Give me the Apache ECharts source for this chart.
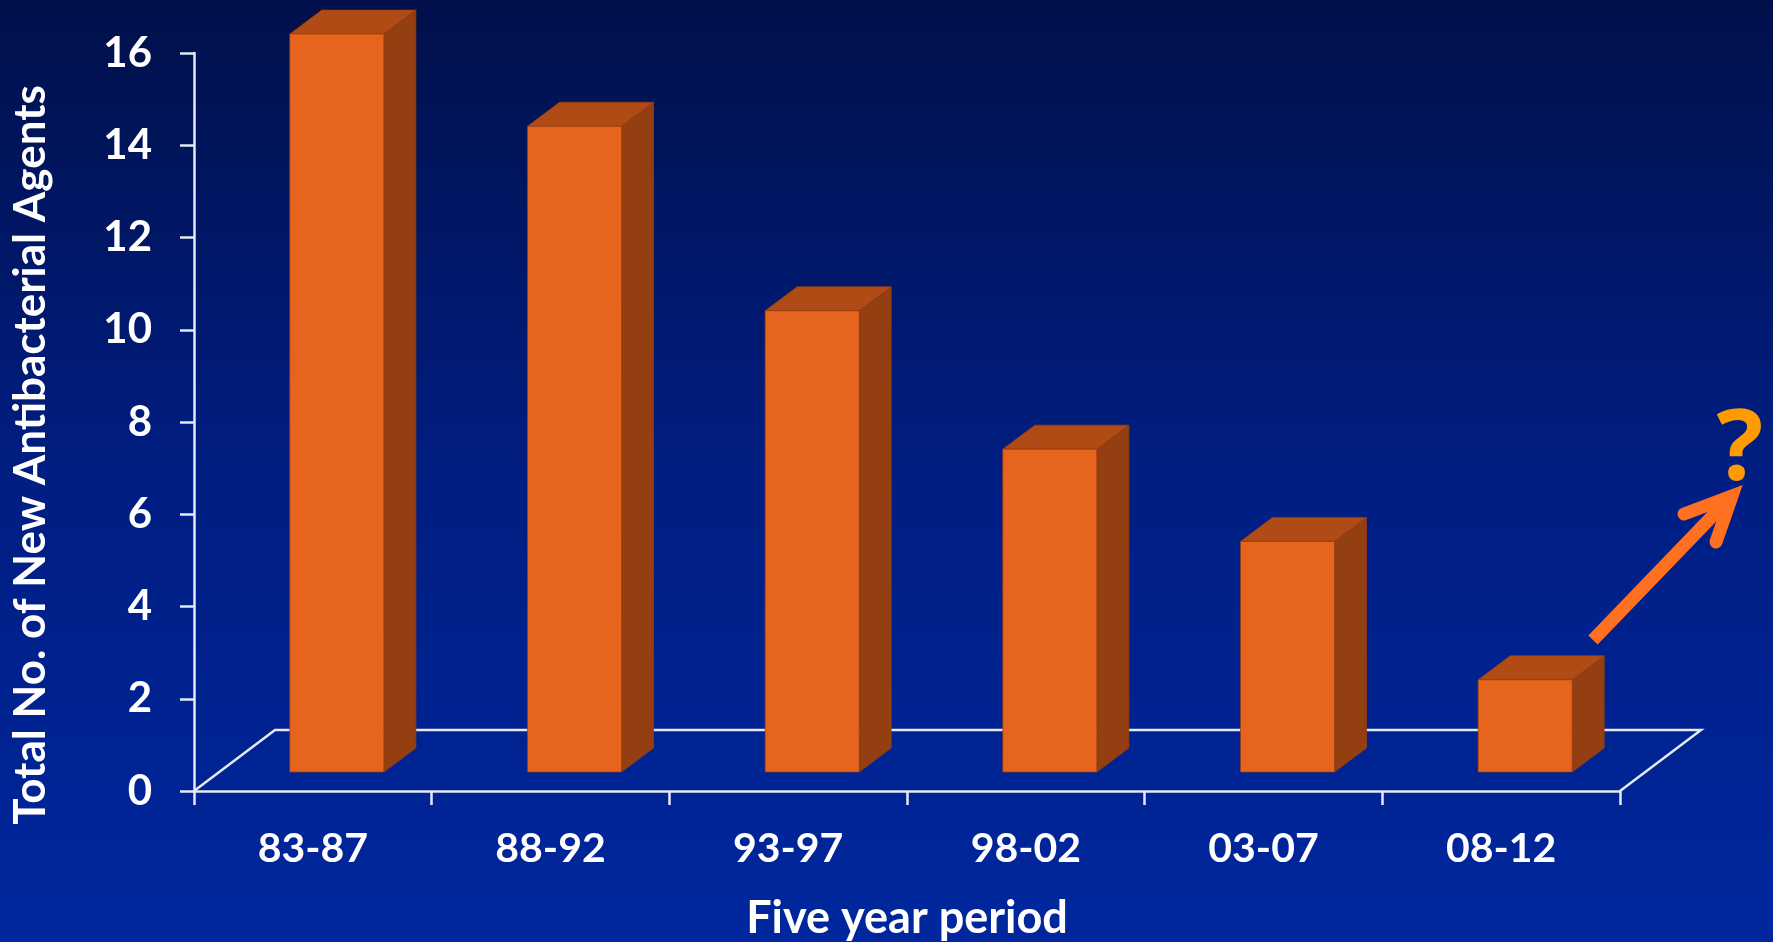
<!DOCTYPE html>
<html>
<head>
<meta charset="utf-8">
<script src="https://cdn.jsdelivr.net/npm/echarts@6/dist/echarts.min.js"></script>
<style>
html,body{margin:0;padding:0;background:#001a70;}
#main{width:1773px;height:942px;}
</style>
</head>
<body>
<div id="main"></div>
<script>
// five year periods and the number of new antibacterial agents approved
var periods = ['83-87', '88-92', '93-97', '98-02', '03-07', '08-12'];
var agents = [16, 14, 10, 7, 5, 2];
var yTitle = 'Total No. of New Antibacterial Agents';
var xTitle = 'Five year period';

var FONT = 'Lato, "Open Sans", sans-serif';
var LINE = '#e4e9f3';

// 3d look: depth of the floor and of each box
var floorDx = 81, floorDy = -61;
var boxDx = 32, boxDy = -24;

function renderFloor(params, api) {
  var cs = params.coordSys;
  var fl = [cs.x, cs.y + cs.height];
  var fr = [cs.x + cs.width, cs.y + cs.height];
  return {
    type: 'polyline',
    shape: { points: [fl, [fl[0] + floorDx, fl[1] + floorDy], [fr[0] + floorDx, fr[1] + floorDy], fr] },
    style: { stroke: LINE, lineWidth: 2.5, fill: null }
  };
}

function renderBox(params, api) {
  var idx = api.value(0);
  var base = api.coord([idx, 0]);
  var top = api.coord([idx, api.value(1)]);
  var band = api.size([1, 0])[0];
  var halfW = band * 0.198;
  var sx = band * 0.101, sy = -19; // front face sits a bit into the floor
  var x0 = base[0] + sx - halfW, x1 = base[0] + sx + halfW;
  var yb = base[1] + sy, yt = top[1] + sy;
  var edge = 'rgba(150,60,15,0.7)';
  return {
    type: 'group',
    children: [
      {
        type: 'polygon',
        shape: { points: [[x1, yt], [x1 + boxDx, yt + boxDy], [x1 + boxDx, yb + boxDy], [x1, yb]] },
        style: { fill: '#933f11', stroke: edge, lineWidth: 1 }
      },
      {
        type: 'polygon',
        shape: { points: [[x0, yt], [x1, yt], [x1 + boxDx, yt + boxDy], [x0 + boxDx, yt + boxDy]] },
        style: { fill: '#b04b15', stroke: edge, lineWidth: 1 }
      },
      {
        type: 'rect',
        shape: { x: x0, y: yt, width: x1 - x0, height: yb - yt },
        style: { fill: '#e6641e', stroke: edge, lineWidth: 1 }
      }
    ]
  };
}

var chart = echarts.init(document.getElementById('main'));
chart.setOption({
  backgroundColor: {
    type: 'linear', x: 0, y: 0, x2: 0, y2: 1,
    colorStops: [
      { offset: 0, color: '#01104a' },
      { offset: 0.5, color: '#001e82' },
      { offset: 1, color: '#00279e' }
    ]
  },
  animation: false,
  grid: { left: 194, right: 153, top: 53, bottom: 151, outerBoundsMode: 'none' },
  xAxis: {
    type: 'category',
    data: periods,
    name: xTitle,
    nameLocation: 'middle',
    nameGap: 105,
    nameTextStyle: { color: '#fff', fontFamily: FONT, fontWeight: 'bold', fontSize: 45 },
    axisLine: { lineStyle: { color: LINE, width: 2.5 } },
    axisTick: { show: true, length: 14, lineStyle: { color: LINE, width: 2.5 } },
    axisLabel: { color: '#fff', fontFamily: FONT, fontWeight: 'bold', fontSize: 41, margin: 37 },
    splitLine: { show: false }
  },
  yAxis: {
    type: 'value',
    min: 0,
    max: 16,
    interval: 2,
    name: yTitle,
    nameLocation: 'middle',
    nameGap: 141,
    nameTextStyle: { color: '#fff', fontFamily: FONT, fontWeight: 'bold', fontSize: 44, padding: [0, 66, 0, 0] },
    axisLine: { show: true, lineStyle: { color: LINE, width: 2.5 } },
    axisTick: { show: true, length: 14, lineStyle: { color: LINE, width: 2.5 } },
    axisLabel: { color: '#fff', fontFamily: FONT, fontWeight: 'bold', fontSize: 42, margin: 42 },
    splitLine: { show: false }
  },
  series: [
    {
      type: 'custom',
      name: 'floor',
      z: 1,
      renderItem: renderFloor,
      data: [[0, 0]],
      silent: true
    },
    {
      type: 'custom',
      name: 'agents',
      z: 2,
      renderItem: renderBox,
      encode: { x: 0, y: 1 },
      data: periods.map(function (p, i) { return [i, agents[i]]; })
    }
  ],
  graphic: [
    {
      type: 'line',
      shape: { x1: 1593, y1: 640, x2: 1726, y2: 502 },
      style: { stroke: '#ff7020', lineWidth: 13 }
    },
    {
      type: 'polyline',
      shape: { points: [[1684, 514], [1732, 496], [1716, 542]] },
      style: { stroke: '#ff7020', lineWidth: 13, lineCap: 'round', lineJoin: 'miter', fill: null }
    },
    {
      type: 'text',
      x: 1740,
      y: 452,
      style: {
        text: '?', fill: '#ff9a00', font: 'bold 98px "Open Sans", sans-serif',
        textAlign: 'center', textVerticalAlign: 'middle'
      }
    }
  ]
});
</script>
</body>
</html>
